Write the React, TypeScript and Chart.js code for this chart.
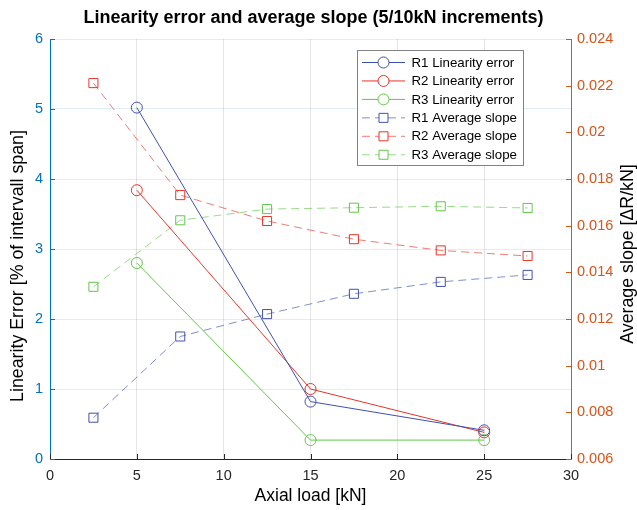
import React, { useEffect, useRef } from "react";
import { Chart, registerables } from "chart.js";

Chart.register(...registerables);

// ---- data ----
const loadLin = [5, 15, 25];
const loadSlope = [2.5, 7.5, 12.5, 17.5, 22.5, 27.5];
const r1Lin = [5.02, 0.82, 0.41];
const r2Lin = [3.84, 1.0, 0.38];
const r3Lin = [2.8, 0.27, 0.27];
const r1Slope = [0.00777, 0.01125, 0.01221, 0.01308, 0.01359, 0.01389];
const r2Slope = [0.02211, 0.01731, 0.0162, 0.01542, 0.01494, 0.0147];
const r3Slope = [0.01338, 0.01623, 0.01671, 0.01677, 0.01683, 0.01676];
const seriesLabels = [
  "R1 Linearity error",
  "R2 Linearity error",
  "R3 Linearity error",
  "R1 Average slope",
  "R2 Average slope",
  "R3 Average slope",
];
const titleText = "Linearity error and average slope (5/10kN increments)";
const xTitle = "Axial load [kN]";
const yTitle = "Linearity Error [% of intervall span]";
const y1Title = "Average slope [\u0394R/kN]";

// ---- styles ----
const FONT = "'Liberation Sans', Arial, Helvetica, sans-serif";
const C1 = "rgb(63,81,176)";
const C2 = "rgb(232,52,42)";
const C3 = "rgb(96,200,72)";
const C1L = "rgba(63,81,176,0.65)";
const C2L = "rgba(232,52,42,0.65)";
const C3L = "rgba(96,200,72,0.65)";
const LEFT = "rgb(0,114,189)";
const RIGHT = "rgb(217,83,25)";
const DARK = "rgb(38,38,38)";

const pts = (xs: number[], ys: number[]) => xs.map((x, i) => ({ x, y: ys[i] }));

const linDs = (label: string, data: number[], c: string) => ({
  label,
  data: pts(loadLin, data),
  yAxisID: "y",
  borderColor: c,
  backgroundColor: "transparent",
  pointBorderColor: c,
  pointBackgroundColor: "transparent",
  borderWidth: 1,
  pointBorderWidth: 1,
  pointStyle: "circle",
  pointRadius: 5.5,
  showLine: true,
  tension: 0,
});
const slopeDs = (label: string, data: number[], c: string, cl: string) => ({
  label,
  data: pts(loadSlope, data),
  yAxisID: "y1",
  borderColor: cl,
  backgroundColor: "transparent",
  pointBorderColor: c,
  pointBackgroundColor: "transparent",
  borderWidth: 1,
  pointBorderWidth: 1,
  borderDash: [8, 5],
  pointStyle: "rect",
  pointRadius: 6.4,
  showLine: true,
  tension: 0,
});

const overlay = {
  id: "overlay",
  afterDraw(chart: any) {
    const ctx = chart.ctx;
    const { x, y, y1 } = chart.scales;
    const area = chart.chartArea;
    ctx.save();
    // inward ticks
    ctx.lineWidth = 1;
    ctx.strokeStyle = DARK;
    x.ticks.forEach((t: any) => {
      const px = Math.round(x.getPixelForValue(t.value)) + 0.5;
      ctx.beginPath();
      ctx.moveTo(px, area.bottom);
      ctx.lineTo(px, area.bottom - 5);
      ctx.stroke();
    });
    ctx.strokeStyle = LEFT;
    y.ticks.forEach((t: any) => {
      const py = Math.round(y.getPixelForValue(t.value)) + 0.5;
      ctx.beginPath();
      ctx.moveTo(area.left, py);
      ctx.lineTo(area.left + 5, py);
      ctx.stroke();
    });
    ctx.strokeStyle = RIGHT;
    y1.ticks.forEach((t: any) => {
      const py = Math.round(y1.getPixelForValue(t.value)) + 0.5;
      ctx.beginPath();
      ctx.moveTo(area.right, py);
      ctx.lineTo(area.right - 5, py);
      ctx.stroke();
    });
    // title
    ctx.fillStyle = "rgb(0,0,0)";
    ctx.font = `bold 18px ${FONT}`;
    ctx.textAlign = "center";
    ctx.textBaseline = "middle";
    ctx.fillText(titleText, (area.left + area.right) / 2 + 3, 18);

    // axis titles (vertical)
    ctx.font = `17.8px ${FONT}`;
    ctx.save();
    ctx.translate(18, 266);
    ctx.rotate(-Math.PI / 2);
    ctx.fillText(yTitle, 0, 0);
    ctx.restore();
    ctx.save();
    ctx.translate(628, 254);
    ctx.rotate(-Math.PI / 2);
    ctx.fillText(y1Title, 0, 0);
    ctx.restore();

    // legend
    const bx = 357.5, by = 50.5, bw = 166, bh = 115;
    ctx.fillStyle = "#fff";
    ctx.fillRect(bx, by, bw, bh);
    ctx.strokeStyle = "rgb(130,130,130)";
    ctx.lineWidth = 1;
    ctx.strokeRect(bx, by, bw, bh);
    chart.data.datasets.forEach((ds: any, i: number) => {
      const cy = 62.5 + i * 18.45;
      ctx.save();
      ctx.strokeStyle = ds.borderColor;
      ctx.lineWidth = 1;
      if (ds.borderDash) ctx.setLineDash(ds.borderDash);
      ctx.beginPath();
      ctx.moveTo(362, cy);
      ctx.lineTo(405, cy);
      ctx.stroke();
      ctx.setLineDash([]);
      ctx.strokeStyle = ds.pointBorderColor;
      ctx.beginPath();
      if (ds.pointStyle === "rect") {
        const s = 4.5;
        ctx.fillStyle = "#fff";
        ctx.fillRect(383.5 - s, cy - s, 2 * s, 2 * s);
        ctx.rect(383.5 - s, cy - s, 2 * s, 2 * s);
      } else {
        ctx.fillStyle = "#fff";
        ctx.arc(383.5, cy, 5.5, 0, Math.PI * 2);
        ctx.fill();
      }
      ctx.stroke();
      ctx.restore();
      ctx.fillStyle = "rgb(0,0,0)";
      ctx.font = `13.3px ${FONT}`;
      ctx.textAlign = "left";
      ctx.textBaseline = "middle";
      ctx.fillText(ds.label, 411.5, cy + 0.5);
    });
    ctx.restore();
  },
};

export default function App() {
  const ref = useRef<HTMLCanvasElement | null>(null);
  useEffect(() => {
    if (!ref.current) return;
    const chart = new Chart(ref.current, {
      type: "scatter",
      data: {
        datasets: [
          linDs(seriesLabels[0], r1Lin, C1),
          linDs(seriesLabels[1], r2Lin, C2),
          linDs(seriesLabels[2], r3Lin, C3),
          slopeDs(seriesLabels[3], r1Slope, C1, C1L),
          slopeDs(seriesLabels[4], r2Slope, C2, C2L),
          slopeDs(seriesLabels[5], r3Slope, C3, C3L),
        ] as any,
      },
      options: {
        animation: false,
        responsive: false,
        devicePixelRatio: 1,
        layout: { padding: { top: 39, left: 0, right: 0, bottom: 0 } },
        plugins: {
          legend: { display: false },
          title: { display: false },
          tooltip: { enabled: false },
        },
        scales: {
          x: {
            type: "linear",
            min: 0,
            max: 30,
            ticks: {
              stepSize: 5,
              color: DARK,
              font: { family: FONT, size: 14.5 },
              padding: 8,
            },
            grid: { color: "rgba(0,0,0,0.1)", drawTicks: false },
            border: { color: DARK, width: 1 },
            title: {
              display: true,
              text: xTitle,
              color: "rgb(0,0,0)",
              font: { family: FONT, size: 17.5, lineHeight: 1.2 },
              padding: { top: 0, bottom: 3 },
            },
            afterFit: (s: any) => {
              s.height = 51;
            },
          },
          y: {
            type: "linear",
            position: "left",
            min: 0,
            max: 6,
            ticks: {
              stepSize: 1,
              color: LEFT,
              font: { family: FONT, size: 14.5 },
              padding: 7,
            },
            grid: { color: "rgba(0,114,189,0.13)", drawTicks: false },
            border: { color: LEFT, width: 1 },
            afterFit: (s: any) => {
              s.width = 50;
            },
          },
          y1: {
            type: "linear",
            position: "right",
            min: 0.006,
            max: 0.024,
            ticks: {
              stepSize: 0.002,
              color: RIGHT,
              font: { family: FONT, size: 14.5 },
              padding: 6,
              callback: (v: any) => String(parseFloat(Number(v).toFixed(4))),
            },
            grid: { display: false, drawTicks: false },
            border: { color: RIGHT, width: 1 },
            afterFit: (s: any) => {
              s.width = 66;
            },
          },
        },
      } as any,
      plugins: [overlay],
    });
    return () => chart.destroy();
  }, []);
  return (
    <div style={{ position: "fixed", left: 0, top: 0, width: 637, height: 510, background: "#fff" }}>
      <canvas ref={ref} width={637} height={510} style={{ width: 637, height: 510 }} />
    </div>
  );
}
